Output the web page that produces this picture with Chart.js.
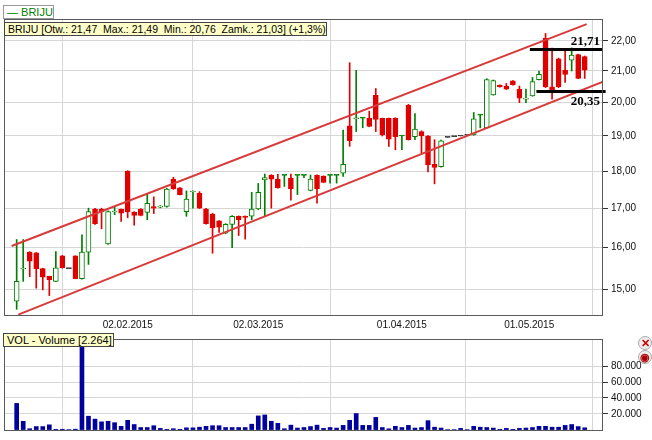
<!DOCTYPE html>
<html>
<head>
<meta charset="utf-8">
<script src="https://cdn.jsdelivr.net/npm/chart.js@4.4.0/dist/chart.umd.min.js"></script>
<style>
body{margin:0;background:#fff;width:652px;height:440px;overflow:hidden;position:relative;font-family:"Liberation Sans",Arial,sans-serif}
canvas{position:absolute;left:0}
#main{top:0}
#vol{top:330px}
.box{position:absolute;font-size:11px;line-height:12px;padding:0 3px;white-space:nowrap;color:#000}
#leg{left:3px;top:5px;height:12px;width:43px;border:1px solid #999;background:#fff;color:#008000}
#info{left:4px;top:22px;width:315px;border:1px solid #444;background:#ffffc8;font-size:10.5px}
#vlab{left:3px;top:333px;width:103px;border:1px solid #444;background:#ffffc8}
.ico{position:absolute;left:638px;width:12px;height:12px;border:1px solid #aaa;border-radius:7px;background:#eee;font-size:11px;line-height:12px;text-align:center;font-weight:bold}
</style>
</head>
<body>
<canvas id="main" width="652" height="330"></canvas>
<canvas id="vol" width="652" height="110"></canvas>
<div class="box" id="leg">— BRIJU</div>
<div class="box" id="info">BRIJU [Otw.: 21,47&nbsp; Max.: 21,49&nbsp; Min.: 20,76&nbsp; Zamk.: 21,03] (+1,3%)</div>
<div class="box" id="vlab">VOL - Volume [2.264]</div>
<div class="ico" style="top:336px;color:#c00">✕</div>
<div class="ico" style="top:350px;color:#a00">◉</div>
<script>
// candles, one per trading day (index 0 = first session shown)
const open  = [14.73,15.48,15.89,15.87,15.49,15.31,15.19,15.80,15.49,15.80,15.25,15.89,16.98,16.97,16.09,16.90,16.97,18.00,16.90,16.97,
               16.89,17.04,17.03,17.05,17.78,17.54,16.91,17.43,17.40,16.98,16.85,16.67,16.36,16.58,16.79,16.79,16.79,16.98,17.76,17.89,
               17.78,17.88,17.81,17.88,17.88,17.47,17.89,17.86,17.88,17.88,17.94,19.30,19.51,19.53,19.53,20.23,19.52,19.52,19.53,19.00,
               19.92,18.98,19.13,19.00,18.19,18.12,18.96,18.98,19.00,19.02,19.03,19.62,19.24,20.24,20.55,20.52,20.68,20.42,20.11,20.21,
               20.72,22.08,20.49,21.40,21.02,21.35,21.54,21.47];
const high  = [16.20,16.20,15.90,15.88,15.50,15.31,15.90,15.81,15.49,15.80,16.32,17.00,17.00,17.00,16.93,17.03,16.98,18.01,16.91,16.99,
               17.38,17.30,17.07,17.53,17.83,17.55,17.46,17.46,17.44,17.00,16.87,16.68,16.60,16.81,16.80,16.80,17.42,17.66,17.92,17.90,
               17.91,17.89,17.92,17.89,17.89,17.89,17.90,17.87,17.89,17.89,19.17,21.27,21.02,19.54,19.74,20.44,19.53,19.53,19.54,19.01,
               19.95,19.67,19.15,19.01,18.89,18.88,18.96,18.98,19.00,19.02,19.70,19.63,20.75,20.71,20.56,20.60,20.69,20.52,20.42,20.79,
               21.00,22.25,21.75,21.42,21.72,21.76,21.55,21.49];
const low   = [14.55,15.19,15.30,15.03,14.99,14.86,15.18,15.50,15.49,15.25,15.24,15.59,16.58,16.47,16.08,16.83,16.66,16.75,16.56,16.80,
               16.70,16.86,17.01,17.03,17.50,17.35,16.79,17.00,16.99,16.59,15.86,16.38,16.35,16.00,16.30,16.21,16.70,16.96,16.79,17.00,
               17.53,17.58,17.21,17.36,17.82,17.46,17.13,17.68,17.67,17.67,17.85,18.70,19.13,19.24,19.27,19.13,19.00,18.70,18.60,18.60,
               18.88,18.89,18.51,17.98,17.65,18.11,18.96,18.98,19.00,19.02,19.02,19.24,19.23,20.23,20.48,20.41,20.55,20.00,20.00,20.20,
               20.71,20.47,20.11,20.47,20.63,21.00,20.75,20.76];
const close = [15.19,15.49,15.67,15.49,15.29,15.23,15.51,15.51,15.49,15.25,15.89,16.91,16.60,16.90,16.91,16.92,16.87,16.90,16.81,16.81,
               17.13,17.00,17.05,17.51,17.51,17.36,17.24,17.45,17.00,16.60,16.49,16.51,16.58,16.79,16.70,16.76,16.98,17.42,17.82,17.78,
               17.54,17.88,17.51,17.88,17.88,17.78,17.51,17.69,17.88,17.88,18.19,18.86,19.54,19.53,19.28,19.49,19.03,18.91,18.98,19.00,
               18.89,19.20,19.00,18.17,18.10,18.86,18.96,18.98,19.00,19.02,19.51,19.62,20.72,20.69,20.49,20.42,20.56,20.14,20.14,20.66,
               20.89,20.49,20.35,20.49,20.89,21.52,20.76,21.03];
const volume = [33100,10500,1100,3800,3800,6000,300,400,0,500,105000,16900,13200,9800,10500,8700,4100,11700,6400,2600,
                2600,4900,1500,300,1100,300,2200,2200,3000,4100,4900,4900,2600,2600,2600,2600,6800,17300,18500,10500,
                7900,1100,5600,1900,2600,3800,5600,1500,2600,1900,5300,11700,20300,5300,5300,15400,2600,1000,4100,2600,
                5300,1900,2600,11300,3000,1900,0,0,1500,0,4100,3000,2600,1900,300,1500,300,1500,1900,2600,
                4100,4100,3000,3000,5300,6400,3800,2264];

const dateTickIndex = [17, 37, 59, 78.5];
const dateTickLabels = ['02.02.2015', '02.03.2015', '01.04.2015', '01.05.2015'];
const priceTicks = [15, 16, 17, 18, 19, 20, 21, 22];
const volumeTicks = [20000, 40000, 60000, 80000];

// trend channel and levels drawn on the chart
const upperChannel = [{x: -0.77, y: 16.04}, {x: 87.3, y: 22.57}];
const lowerChannel = [{x: 0.25, y: 14.43}, {x: 89.8, y: 20.66}];
const resistance = 21.71;
const support = 20.35;
const resistanceSpan = [78.6, 89.8];
const supportSpan = [79.6, 90.2];

const GREEN = '#008000', RED = '#e00000';
const idx = open.map((v, i) => i);
const colorOf = i => high[i] === low[i] ? '#333' : (close[i] >= open[i] ? GREEN : RED);
const fmt2 = v => v.toFixed(2).replace('.', ',');

Chart.defaults.font.family = '"Liberation Sans", Arial, sans-serif';
Chart.defaults.font.size = 10;
Chart.defaults.color = '#111';

const frame = {
  id: 'frame',
  afterDraw(chart) {
    const {ctx, chartArea: a} = chart;
    ctx.save();
    ctx.strokeStyle = '#5a5a5a';
    ctx.lineWidth = 1;
    ctx.strokeRect(a.left + 0.5, a.top + 0.5, a.width - 1, a.height - 1);
    ctx.restore();
  }
};

const levelLabels = {
  id: 'levelLabels',
  afterDatasetsDraw(chart) {
    const {ctx, chartArea: a} = chart;
    const y = chart.scales.y;
    ctx.save();
    ctx.font = 'bold 13px "Liberation Serif", serif';
    ctx.fillStyle = '#000';
    ctx.textAlign = 'right';
    ctx.fillText(fmt2(resistance), a.right - 3, y.getPixelForValue(resistance) - 4);
    ctx.fillText(fmt2(support), a.right - 3, y.getPixelForValue(support) + 14);
    ctx.restore();
  }
};

const xMin = -1.94, xMax = 89.8;

new Chart(document.getElementById('main'), {
  type: 'bar',
  data: {
    datasets: [
      {
        type: 'line', order: -1, clip: false,
        data: [{x: resistanceSpan[0], y: resistance}, {x: resistanceSpan[1], y: resistance}],
        borderColor: '#000', borderWidth: 3, pointRadius: 0
      },
      {
        type: 'line', order: -1, clip: false,
        data: [{x: supportSpan[0], y: support}, {x: supportSpan[1], y: support}],
        borderColor: '#000', borderWidth: 3, pointRadius: 0
      },
      {
        type: 'line', order: 0, data: upperChannel,
        borderColor: '#d83a3a', borderWidth: 2, pointRadius: 0
      },
      {
        type: 'line', order: 0, data: lowerChannel,
        borderColor: '#d83a3a', borderWidth: 2, pointRadius: 0
      },
      {
        order: 1, grouped: false,
        data: idx.map(i => ({x: i, y: [Math.min(open[i], close[i]), Math.max(open[i], close[i])]})),
        barThickness: 5, minBarLength: 1, borderWidth: 1, borderSkipped: false,
        backgroundColor: idx.map(i => close[i] > open[i] ? '#fff' : colorOf(i)),
        borderColor: idx.map(colorOf)
      },
      {
        order: 2, grouped: false,
        data: idx.map(i => ({x: i, y: [low[i], high[i]]})),
        barThickness: 1, borderWidth: 0,
        backgroundColor: idx.map(colorOf)
      }
    ]
  },
  options: {
    responsive: false,
    animation: false,
    layout: {padding: {left: 4, top: 19, right: 0, bottom: 0}},
    plugins: {legend: {display: false}, tooltip: {enabled: false}},
    scales: {
      x: {
        type: 'linear', min: xMin, max: xMax, offset: false,
        afterBuildTicks: s => { s.ticks = dateTickIndex.map(v => ({value: v})); },
        afterFit: s => { s.height = 14; },
        ticks: {callback: (v, i) => dateTickLabels[i], autoSkip: false, maxRotation: 0, padding: 3},
        grid: {color: '#d6d6d6', drawTicks: false},
        border: {display: false}
      },
      y: {
        type: 'logarithmic', position: 'right', min: 14.40, max: 22.75,
        afterBuildTicks: s => { s.ticks = priceTicks.map(v => ({value: v})); },
        afterFit: s => { s.width = 49; },
        ticks: {callback: v => fmt2(v), padding: 3},
        grid: {color: '#d6d6d6', tickColor: '#333', tickLength: 5},
        border: {display: false}
      }
    }
  },
  plugins: [frame, levelLabels]
});

new Chart(document.getElementById('vol'), {
  type: 'bar',
  data: {
    datasets: [{
      data: idx.map(i => ({x: i, y: volume[i]})),
      barThickness: 4, backgroundColor: '#00009c'
    }]
  },
  options: {
    responsive: false,
    animation: false,
    layout: {padding: {left: 4, top: 3, right: 0, bottom: 0}},
    plugins: {legend: {display: false}, tooltip: {enabled: false}},
    scales: {
      x: {
        type: 'linear', min: xMin, max: xMax, offset: false,
        afterBuildTicks: s => { s.ticks = dateTickIndex.map(v => ({value: v})); },
        afterFit: s => { s.height = 4; },
        ticks: {display: false},
        grid: {color: '#d6d6d6', drawTicks: false},
        border: {display: false}
      },
      y: {
        type: 'linear', position: 'right', min: -1800, max: 114600,
        afterBuildTicks: s => { s.ticks = volumeTicks.map(v => ({value: v})); },
        afterFit: s => { s.width = 49; },
        ticks: {callback: v => (v / 1000) + '.000', padding: 3},
        grid: {color: '#d6d6d6', tickColor: '#333', tickLength: 5},
        border: {display: false}
      }
    }
  },
  plugins: [frame]
});
</script>
</body>
</html>
